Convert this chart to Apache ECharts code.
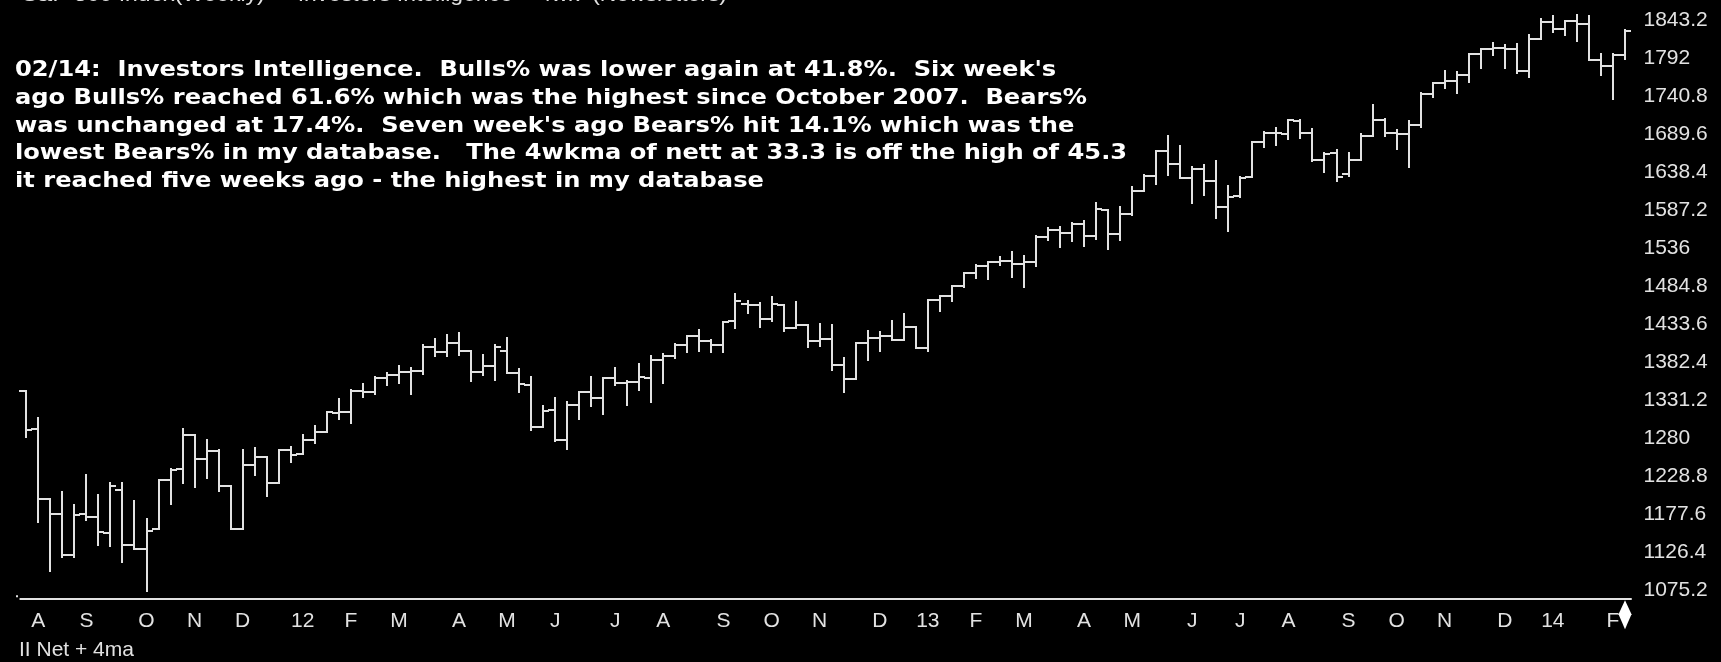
<!DOCTYPE html>
<html>
<head>
<meta charset="utf-8">
<title>S&amp;P 500 weekly - Investors Intelligence</title>
<script src="https://cdn.jsdelivr.net/npm/echarts@6/dist/echarts.min.js"></script>
<style>
  html, body { margin: 0; padding: 0; background: #000; }
  #chart { width: 1721px; height: 662px; }
</style>
</head>
<body>
<div id="chart"></div>
<script>
// week-ending dates, one bar each
const weeks = [
  '2011-07-29','2011-08-05','2011-08-12','2011-08-19','2011-08-26','2011-09-02','2011-09-09','2011-09-16','2011-09-23','2011-09-30',
  '2011-10-07','2011-10-14','2011-10-21','2011-10-28','2011-11-04','2011-11-11','2011-11-18','2011-11-25','2011-12-02','2011-12-09',
  '2011-12-16','2011-12-23','2011-12-30',
  '2012-01-06','2012-01-13','2012-01-20','2012-01-27','2012-02-03','2012-02-10','2012-02-17','2012-02-24','2012-03-02','2012-03-09',
  '2012-03-16','2012-03-23','2012-03-30','2012-04-06','2012-04-13','2012-04-20','2012-04-27','2012-05-04','2012-05-11','2012-05-18',
  '2012-05-25','2012-06-01','2012-06-08','2012-06-15','2012-06-22','2012-06-29','2012-07-06','2012-07-13','2012-07-20','2012-07-27',
  '2012-08-03','2012-08-10','2012-08-17','2012-08-24','2012-08-31','2012-09-07','2012-09-14','2012-09-21','2012-09-28','2012-10-05',
  '2012-10-12','2012-10-19','2012-10-26','2012-11-02','2012-11-09','2012-11-16','2012-11-23','2012-11-30','2012-12-07','2012-12-14',
  '2012-12-21','2012-12-28',
  '2013-01-04','2013-01-11','2013-01-18','2013-01-25','2013-02-01','2013-02-08','2013-02-15','2013-02-22','2013-03-01','2013-03-08',
  '2013-03-15','2013-03-22','2013-03-29','2013-04-05','2013-04-12','2013-04-19','2013-04-26','2013-05-03','2013-05-10','2013-05-17',
  '2013-05-24','2013-05-31','2013-06-07','2013-06-14','2013-06-21','2013-06-28','2013-07-05','2013-07-12','2013-07-19','2013-07-26',
  '2013-08-02','2013-08-09','2013-08-16','2013-08-23','2013-08-30','2013-09-06','2013-09-13','2013-09-20','2013-09-27','2013-10-04',
  '2013-10-11','2013-10-18','2013-10-25','2013-11-01','2013-11-08','2013-11-15','2013-11-22','2013-11-29','2013-12-06','2013-12-13',
  '2013-12-20','2013-12-27',
  '2014-01-03','2014-01-10','2014-01-17','2014-01-24','2014-01-31','2014-02-07','2014-02-14'
];

const opens = [
  1344.3,1292.6,1198.5,1178.9,1123.6,1177.9,1174.0,1153.5,1211.5,1136.9,1131.2,1158.2,1224.5,1238.7,1285.0,1253.2,1263.9,1215.6,1158.7,1244.3,1255.1,1219.7,1265.4,
  1258.9,1277.8,1289.1,1315.3,1316.2,1344.3,1343.1,1361.2,1365.2,1369.6,1370.8,1404.2,1397.1,1408.5,1397.5,1370.3,1378.5,1397.9,1368.8,1351.9,1295.7,1318.9,
  1278.3,1325.9,1342.4,1334.9,1362.3,1354.7,1356.5,1362.3,1385.8,1391.0,1405.9,1417.9,1411.1,1406.5,1438.4,1461.4,1459.8,1440.9,1460.3,1428.8,1433.2,1411.0,
  1414.0,1379.9,1359.9,1409.1,1416.3,1418.1,1413.5,1430.2,
  1402.4,1466.5,1472.1,1486.0,1503.0,1513.2,1517.9,1519.8,1515.6,1518.2,1551.2,1560.7,1556.9,1569.2,1553.3,1588.8,1555.3,1582.2,1614.4,1633.7,1667.5,1649.6,
  1630.7,1643.4,1626.7,1592.4,1606.4,1632.1,1679.6,1692.1,1690.3,1708.0,1691.7,1655.3,1664.3,1636.0,1655.2,1688.0,1709.9,1691.7,1690.5,1703.2,1744.5,1759.8,
  1761.6,1770.6,1798.2,1804.8,1806.6,1805.1,1775.4,1818.3,
  1841.5,1831.4,1842.4,1838.7,1790.3,1782.7,1797.0
];
const highs = [
  1344.3,1307.4,1198.5,1208.5,1190.7,1230.7,1204.4,1220.1,1220.1,1195.9,1171.4,1224.6,1239.0,1292.7,1285.0,1277.6,1264.3,1215.6,1264.3,1267.1,1255.1,1265.4,1269.4,
  1284.6,1296.8,1315.5,1333.5,1345.3,1354.3,1363.4,1368.9,1378.0,1374.8,1405.9,1414.0,1419.2,1422.4,1397.5,1392.8,1406.6,1415.3,1373.9,1363.6,1324.2,1334.9,
  1329.1,1343.3,1363.5,1362.2,1374.8,1357.3,1380.4,1391.7,1394.2,1407.1,1418.7,1426.7,1413.5,1437.9,1474.5,1465.8,1463.2,1471.0,1460.3,1464.0,1433.7,1434.3,
  1433.4,1388.8,1409.2,1424.5,1423.7,1438.6,1448.0,1430.2,
  1466.5,1472.3,1486.0,1503.3,1514.4,1518.3,1524.7,1530.9,1525.8,1552.5,1563.6,1564.6,1570.3,1573.7,1597.4,1588.8,1592.6,1618.5,1635.0,1667.5,1687.2,1674.2,
  1646.5,1648.7,1654.2,1620.1,1632.1,1680.2,1693.1,1698.4,1709.7,1709.2,1696.8,1664.9,1669.5,1664.7,1690.0,1729.9,1711.4,1696.6,1707.6,1745.3,1759.8,1775.2,
  1774.5,1798.2,1804.8,1813.6,1810.0,1811.5,1823.8,1844.9,
  1849.4,1843.2,1850.8,1849.2,1798.8,1798.0,1830.3
];
const lows = [
  1282.9,1168.1,1101.5,1121.1,1121.1,1170.5,1137.2,1136.1,1114.2,1131.1,1074.8,1158.2,1191.5,1220.8,1215.4,1226.6,1209.4,1158.7,1158.7,1231.5,1202.4,1219.7,1248.6,
  1258.9,1274.5,1289.1,1306.1,1300.5,1335.9,1340.0,1352.3,1354.9,1340.0,1366.7,1391.6,1391.6,1392.9,1357.4,1365.4,1358.8,1368.0,1343.1,1292.0,1295.7,1277.3,
  1266.7,1306.6,1324.4,1313.3,1352.8,1325.4,1345.1,1329.2,1354.7,1389.4,1397.3,1398.0,1397.0,1396.6,1429.0,1450.0,1430.5,1439.0,1425.5,1428.8,1403.3,1405.2,
  1373.0,1343.4,1359.9,1385.4,1398.1,1413.2,1413.5,1401.6,
  1398.1,1451.6,1465.7,1485.0,1496.3,1495.0,1513.6,1497.3,1485.0,1512.3,1547.4,1538.6,1546.2,1539.5,1548.9,1536.0,1548.2,1581.3,1614.4,1623.7,1635.5,1630.6,
  1598.2,1608.1,1577.7,1560.3,1605.6,1632.1,1672.4,1676.0,1684.2,1684.9,1654.2,1639.4,1627.5,1633.4,1655.2,1688.0,1688.0,1670.4,1646.5,1699.6,1740.5,1752.7,
  1746.2,1760.6,1780.1,1797.0,1779.1,1772.3,1768.0,1818.3,
  1827.7,1823.7,1815.5,1790.3,1770.5,1737.9,1791.8
];
const closes = [
  1292.3,1199.4,1178.8,1123.5,1176.8,1174.0,1154.2,1216.0,1136.4,1131.4,1155.5,1224.6,1238.3,1285.1,1253.2,1263.9,1215.7,1158.7,1244.3,1255.2,1219.7,1265.3,1257.6,
  1277.8,1289.1,1315.4,1316.3,1344.9,1342.6,1361.2,1365.7,1369.6,1370.9,1404.2,1397.1,1408.5,1398.1,1370.3,1378.5,1403.4,1369.1,1353.4,1295.2,1317.8,1278.0,
  1325.7,1342.8,1335.0,1362.2,1354.7,1356.8,1362.7,1386.0,1391.0,1405.9,1418.2,1411.1,1406.6,1437.9,1465.8,1460.2,1440.7,1460.9,1428.6,1433.2,1411.9,1414.2,
  1379.9,1359.9,1409.2,1416.2,1418.1,1413.6,1430.2,1402.4,
  1466.5,1472.1,1486.0,1503.0,1513.2,1517.9,1519.8,1515.6,1518.2,1551.2,1560.7,1556.9,1569.2,1553.3,1588.9,1555.3,1582.2,1614.4,1633.7,1667.5,1649.6,1630.7,
  1643.4,1626.7,1592.4,1606.3,1631.9,1680.2,1692.1,1691.7,1709.7,1691.4,1655.8,1663.5,1633.0,1655.2,1688.0,1709.9,1691.8,1690.5,1703.2,1744.5,1759.8,1761.6,
  1770.6,1798.2,1804.8,1805.8,1805.1,1775.3,1818.3,1841.4,
  1831.4,1842.4,1838.7,1790.3,1782.6,1797.0,1829.8
];

const yTickLabels = ['1075.2','1126.4','1177.6','1228.8','1280','1331.2','1382.4','1433.6',
  '1484.8','1536','1587.2','1638.4','1689.6','1740.8','1792','1843.2'];
const monthLetters = ['J','F','M','A','M','J','J','A','S','O','N','D'];

const headline = 'S&P 500 Index(Weekly)  -  Investors Intelligence + 4wk  (Newsletters)';
const footer = 'II Net + 4ma';
const note = [
  "02/14:  Investors Intelligence.  Bulls% was lower again at 41.8%.  Six week's",
  "ago Bulls% reached 61.6% which was the highest since October 2007.  Bears%",
  "was unchanged at 17.4%.  Seven week's ago Bears% hit 14.1% which was the",
  "lowest Bears% in my database.   The 4wkma of nett at 33.3 is off the high of 45.3",
  "it reached five weeks ago - the highest in my database"
];

const yMin = 1064.96;
const yMax = 1853.44;
const ink = '#e2e2e2';
const axisFont = '"Liberation Sans", Arial, sans-serif';

const isMonthStart = i => i > 0 && weeks[i].slice(5, 7) !== weeks[i - 1].slice(5, 7);
const monthLabel = d => {
  const m = +d.slice(5, 7);
  return m === 1 ? d.slice(2, 4) : monthLetters[m - 1];
};

const bars = weeks.map((w, i) => [i, opens[i], highs[i], lows[i], closes[i]]);

// plain OHLC bar: high-low stem, open tick left, close tick right
function renderBar(params, api) {
  const i = api.value(0);
  const band = api.size([1, 0])[0];
  const at = v => api.coord([i, v]);
  const o = at(api.value(1)), h = at(api.value(2)), l = at(api.value(3)), c = at(api.value(4));
  const x = Math.round(o[0]);
  const style = { stroke: ink, lineWidth: 2 };
  const children = [
    { type: 'line', shape: { x1: x, y1: Math.round(h[1]) - 1, x2: x, y2: Math.round(l[1]) + 1 }, style },
    { type: 'line', shape: { x1: x - Math.round(band * 0.6), y1: Math.round(o[1]), x2: x, y2: Math.round(o[1]) }, style },
    { type: 'line', shape: { x1: x, y1: Math.round(c[1]), x2: x + Math.round(band * 0.5), y2: Math.round(c[1]) }, style }
  ];
  if (params.dataIndex === 0) {
    // little start dot at the left end of the time axis
    const base = at(yMin)[1];
    children.push({ type: 'rect', shape: { x: x - 10, y: base - 3, width: 2, height: 2 }, style: { fill: ink } });
  }
  if (params.dataIndex === weeks.length - 1) {
    // current-bar marker under the time axis
    const base = at(yMin)[1];
    children.push({
      type: 'polygon',
      shape: { points: [[x, base + 2], [x + 6.5, base + 16], [x, base + 31], [x - 6.5, base + 16]] },
      style: { fill: '#ffffff' }
    });
  }
  return { type: 'group', children };
}

const chart = echarts.init(document.getElementById('chart'), null, { renderer: 'canvas' });
chart.setOption({
  backgroundColor: '#000000',
  animation: false,
  grid: { left: 20.3, right: 90, top: 13.1, bottom: 63.7, containLabel: false, outerBoundsMode: 'none' },
  xAxis: {
    type: 'category',
    data: weeks,
    boundaryGap: true,
    axisLine: { lineStyle: { color: ink, width: 2 } },
    axisTick: {
      alignWithLabel: true,
      interval: (idx) => isMonthStart(idx),
      length: 6,
      lineStyle: { color: ink, width: 2 }
    },
    axisLabel: {
      interval: (idx) => isMonthStart(idx),
      formatter: (v) => monthLabel(v),
      color: ink,
      fontFamily: axisFont,
      fontSize: 21,
      margin: 12
    },
    splitLine: { show: false }
  },
  yAxis: {
    type: 'value',
    position: 'right',
    min: yMin,
    max: yMax,
    scale: true,
    axisLine: { show: false },
    axisTick: { show: false },
    splitLine: { show: false },
    axisLabel: {
      customValues: yTickLabels.map(Number),
      formatter: (v) => yTickLabels.find(t => Math.abs(Number(t) - v) < 0.01) || '',
      color: ink,
      fontFamily: axisFont,
      fontSize: 21,
      margin: 12.5
    }
  },
  series: [{
    type: 'custom',
    renderItem: renderBar,
    encode: { x: 0, y: [1, 2, 3, 4] },
    data: bars,
    clip: false
  }],
  graphic: [
    {
      type: 'text', x: 22, y: -15, scaleX: 1.09,
      style: { text: headline, fill: ink, font: '21px "Liberation Sans"', align: 'left', verticalAlign: 'top' }
    },
    {
      type: 'text', x: 15, y: 57, scaleX: 1.15,
      style: { text: note.join('\n'), fill: '#ffffff', font: 'bold 21px "DejaVu Sans"', lineHeight: 27.7, align: 'left', verticalAlign: 'top' }
    },
    {
      type: 'text', x: 19, y: 640,
      style: { text: footer, fill: ink, font: '21px "Liberation Sans"', align: 'left', verticalAlign: 'top' }
    }
  ]
});
</script>
</body>
</html>
